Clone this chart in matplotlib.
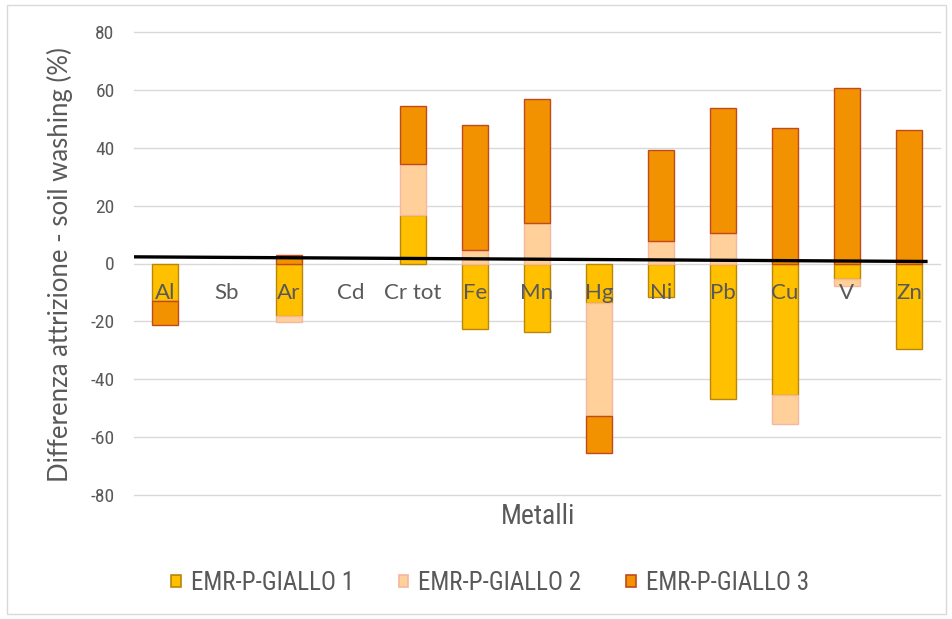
import numpy as np
import matplotlib
matplotlib.use("Agg")
import matplotlib.pyplot as plt
from matplotlib.patches import Rectangle
from matplotlib import font_manager

available = {f.name for f in font_manager.fontManager.ttflist}
narrow = next((c for c in ['Roboto Condensed', 'Liberation Sans Narrow', 'Lato'] if c in available),
              'DejaVu Sans')
regular = 'Lato' if 'Lato' in available else 'DejaVu Sans'
plt.rcParams['font.family'] = [narrow, 'DejaVu Sans']

categories = ["Al", "Sb", "Ar", "Cd", "Cr tot", "Fe", "Mn", "Hg", "Ni", "Pb", "Cu", "V", "Zn"]
series_names = ["EMR-P-GIALLO 1", "EMR-P-GIALLO 2", "EMR-P-GIALLO 3"]
giallo1 = [-13.0, 0, -18.0, 0, 16.9, -22.6, -23.7, -13.6, -11.5, -46.7, -45.6, -5.5, -29.4]
giallo2 = [0, 0, -2.3, 0, 17.5, 4.6, 14.1, -39.1, 7.9, 10.6, -10.0, -2.3, 0]
giallo3 = [-8.1, 0, 3.0, 0, 20.1, 43.1, 42.6, -12.7, 31.4, 43.2, 46.9, 60.7, 46.3]
y_ticks = [-80, -60, -40, -20, 0, 20, 40, 60, 80]

fills = ["#FFC000", "#FFD09A", "#F39200"]
edges = ["#B8860B", "#F4B7A0", "#C04A1E"]
text_color = "#595959"

W, H = 953, 619
fig = plt.figure(figsize=(W / 100, H / 100), dpi=100)
ax = fig.add_axes([134 / W, 1 - 495 / H, (940 - 134) / W, (495 - 32) / H])

x = np.arange(len(categories))
pos_bottom = np.zeros(len(categories))
neg_bottom = np.zeros(len(categories))
handles = []
for vals, name, fc, ec in zip([giallo1, giallo2, giallo3], series_names, fills, edges):
    v = np.array(vals, dtype=float)
    bottom = np.where(v >= 0, pos_bottom, neg_bottom)
    m = v != 0
    ax.bar(x[m], v[m], bottom=bottom[m], width=0.435, color=fc, edgecolor=ec,
           linewidth=1.0, zorder=3)
    handles.append(Rectangle((0, 0), 1, 1, facecolor=fc, edgecolor=ec, linewidth=1.2))
    pos_bottom = pos_bottom + np.where(v > 0, v, 0)
    neg_bottom = neg_bottom + np.where(v < 0, v, 0)

ax.set_xlim(-0.5, len(categories) - 0.5)
ax.set_ylim(-80, 80)
ax.set_yticks(y_ticks)
ax.set_yticklabels([str(t) for t in y_ticks], fontsize=14, color=text_color)
ax.tick_params(axis='y', length=0, pad=14)
ax.grid(axis='y', color="#D9D9D9", linewidth=1.0, zorder=0)
for gl in ax.yaxis.get_gridlines():
    gl.set_clip_on(False)
for s in ax.spines.values():
    s.set_visible(False)

ax.spines['bottom'].set_position(('data', 0))
ax.set_xticks(x)
ax.set_xticklabels(categories, fontsize=16, color=text_color, family=[regular, 'DejaVu Sans'])
ax.tick_params(axis='x', length=0, pad=14)
ax.xaxis.set_zorder(6)

# hand-drawn black zero line overlay
ax.plot([-0.5, 12.3], [2.3, 0.7], color="black", linewidth=2.4, zorder=5,
        solid_capstyle='butt')

fig.text(538 / W, 1 - 517 / H, "Metalli", fontsize=20, color=text_color,
         ha='center', va='center')
fig.text(60 / W, 1 - 265 / H, "Differenza attrizione - soil washing (%)", fontsize=18.5,
         color=text_color, rotation=90, ha='center', va='center',
         family=[regular, 'DejaVu Sans'])

leg = fig.legend(handles, series_names, loc='center', bbox_to_anchor=(490 / W, 1 - 583 / H),
                 ncol=3, frameon=False, fontsize=18, handlelength=0.38, handleheight=0.38,
                 handletextpad=0.4, columnspacing=1.8, labelcolor=text_color)

fig.patches.append(Rectangle((7 / W, 1 - 614 / H), (946 - 7) / W, (614 - 5) / H,
                             transform=fig.transFigure, fill=False, edgecolor="#D9D9D9",
                             linewidth=1.0))

fig.savefig("out.png", dpi=100, facecolor="white")
